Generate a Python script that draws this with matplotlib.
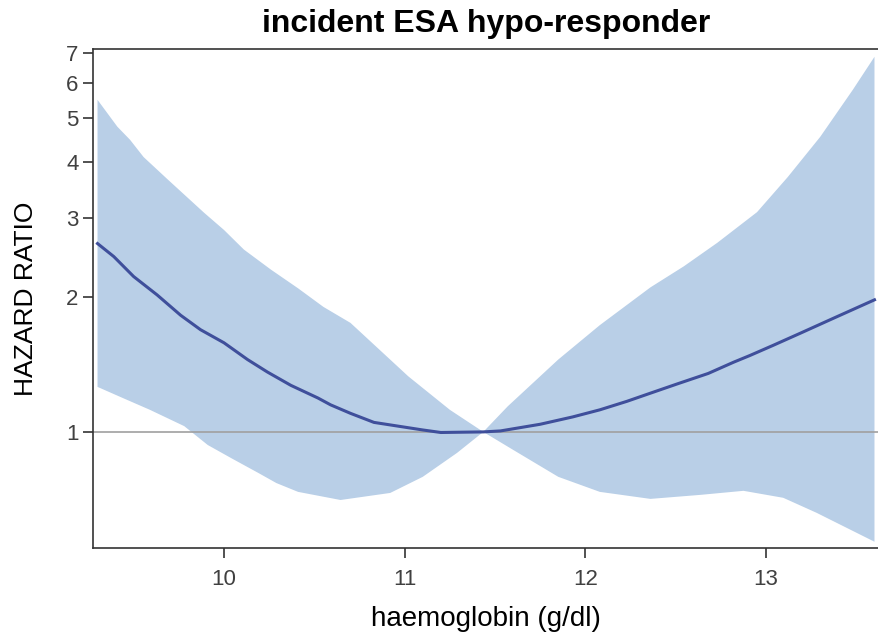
import numpy as np
import matplotlib
matplotlib.use("Agg")
import matplotlib.pyplot as plt
from matplotlib.ticker import FixedLocator, NullLocator, FixedFormatter

plt.rcParams['font.family'] = ['Liberation Sans', 'DejaVu Sans']

# hazard ratio estimate
hr_x = [9.30, 9.39, 9.50, 9.63, 9.76, 9.87, 10.00, 10.13, 10.24, 10.37, 10.52, 10.59,
        10.70, 10.83, 11.10, 11.20, 11.435, 11.53, 11.75, 11.93, 12.08, 12.23, 12.36,
        12.51, 12.68, 12.82, 12.91, 13.04, 13.19, 13.37, 13.60]
hr_y = [2.63, 2.46, 2.22, 2.02, 1.82, 1.69, 1.58, 1.45, 1.36, 1.27, 1.19, 1.149,
        1.10, 1.05, 1.01, 0.997, 1.00, 1.005, 1.04, 1.08, 1.12, 1.17, 1.22,
        1.28, 1.35, 1.43, 1.48, 1.56, 1.66, 1.79, 1.97]

# upper confidence limit
upper_x = [9.30, 9.41, 9.48, 9.555, 9.69, 9.89, 10.00, 10.11, 10.26, 10.41, 10.55, 10.70,
           11.02, 11.25, 11.435, 11.57, 11.85, 12.08, 12.36, 12.545, 12.73, 12.95, 13.12,
           13.30, 13.48, 13.60]
upper_y = [5.50, 4.79, 4.48, 4.10, 3.65, 3.08, 2.82, 2.55, 2.30, 2.09, 1.90, 1.75,
           1.33, 1.12, 1.00, 1.14, 1.45, 1.73, 2.10, 2.34, 2.64, 3.09, 3.70,
           4.55, 5.79, 6.86]

# lower confidence limit
lower_x = [9.30, 9.44, 9.59, 9.78, 9.91, 10.04, 10.19, 10.29, 10.41, 10.645, 10.92, 11.10,
           11.29, 11.435, 11.60, 11.85, 12.08, 12.36, 12.64, 12.875, 13.095, 13.28, 13.60]
lower_y = [1.26, 1.19, 1.12, 1.03, 0.935, 0.874, 0.81, 0.769, 0.735, 0.705, 0.731, 0.794,
           0.898, 1.00, 0.912, 0.794, 0.735, 0.709, 0.724, 0.739, 0.713, 0.660, 0.569]

x_ticks = [10, 11, 12, 13]
y_ticks = [1, 2, 3, 4, 5, 6, 7]

fig = plt.figure(figsize=(8.79, 6.41), dpi=100)
ax = fig.add_axes([93 / 879, 1 - 548 / 641, 786 / 879, (548 - 49) / 641])

# confidence band as one polygon
band_x = np.concatenate([upper_x, lower_x[::-1]])
band_y = np.concatenate([upper_y, lower_y[::-1]])
ax.fill(band_x, band_y, color='#b9cfe7', linewidth=0, zorder=1)

ax.axhline(1, color='#a0a0a0', linewidth=1.2, zorder=2)
ax.plot(hr_x, hr_y, color='#3f4f9b', linewidth=2.2, zorder=3)

ax.set_yscale('log')
ax.set_xlim(9.275, 13.625)
ax.set_ylim(0.551, 7.14)

ax.yaxis.set_major_locator(FixedLocator(y_ticks))
ax.yaxis.set_major_formatter(FixedFormatter([str(t) for t in y_ticks]))
ax.yaxis.set_minor_locator(NullLocator())
ax.set_xticks(x_ticks)
ax.set_xticklabels([str(t) for t in x_ticks])

ax.spines['right'].set_visible(False)
for s in ['left', 'bottom', 'top']:
    ax.spines[s].set_color('#333333')
    ax.spines[s].set_linewidth(1.2)

ax.tick_params(axis='both', direction='out', length=7, width=1.2,
               color='#333333', labelcolor='#404040', labelsize=16)
ax.tick_params(axis='x', pad=8)

ax.set_title('incident ESA hypo-responder', fontsize=23, fontweight='bold', pad=12)
ax.set_xlabel('haemoglobin (g/dl)', fontsize=20, labelpad=12)
ax.set_ylabel('HAZARD RATIO', fontsize=19, labelpad=20)

fig.savefig('out.png', dpi=100)
